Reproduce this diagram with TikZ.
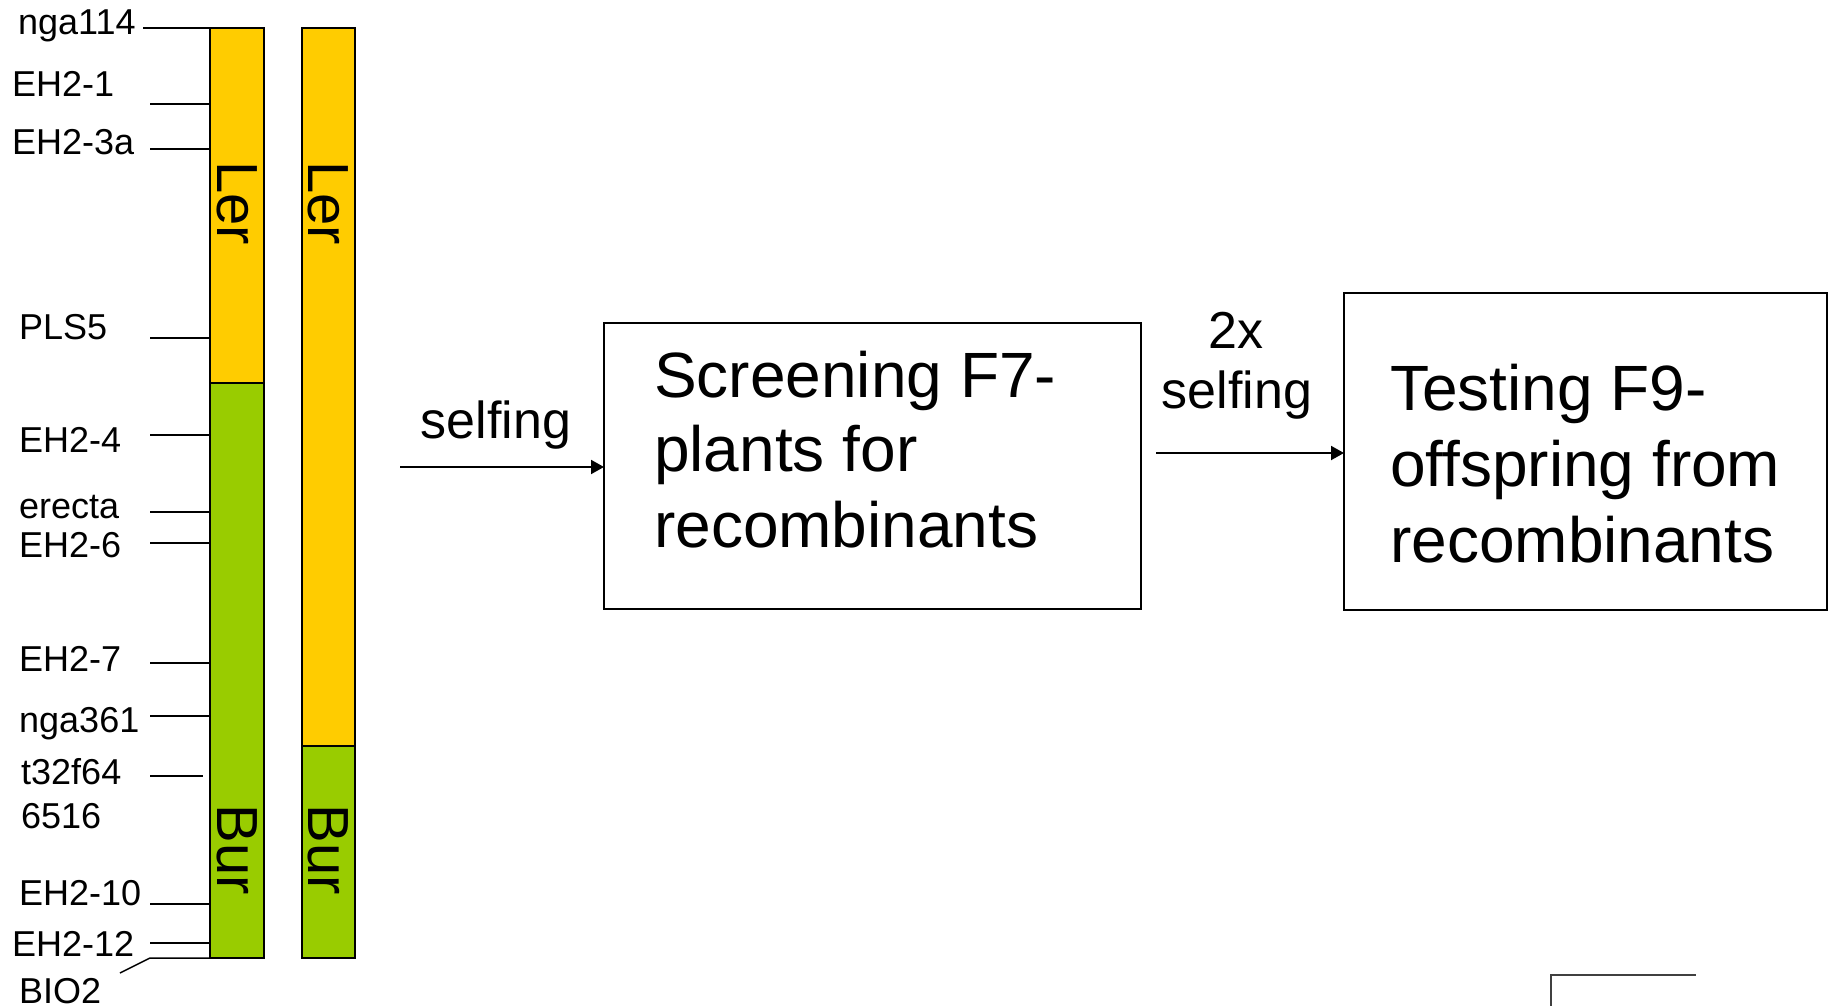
\documentclass[tikz,border=0pt]{standalone}
\usepackage{fontspec}
\setmainfont{Liberation Sans}
\usetikzlibrary{arrows.meta}
\definecolor{lerc}{HTML}{FFCC00}
\definecolor{burc}{HTML}{99CC00}
\begin{document}
\begin{tikzpicture}[x=1pt,y=-1pt,
  seg/.style={draw=black, line width=2.5pt, inner sep=0pt, outer sep=0pt},
  strain/.style={rotate=-90, inner sep=0pt, font=\fontsize{58}{62}\selectfont},
  mk/.style={anchor=base west, inner sep=0pt, font=\fontsize{36}{40}\selectfont},
  tick/.style={line width=1.5pt},
  box/.style={draw=black, line width=2pt, inner sep=0pt, outer sep=0pt},
  boxtxt/.style={anchor=base west, inner sep=0pt, font=\fontsize{64}{76}\selectfont},
  lbl/.style={anchor=base, inner sep=0pt, font=\fontsize{52}{58}\selectfont},
  arr/.style={line width=2pt, -{Triangle[length=13pt,width=14pt]}}
]
\useasboundingbox[fill=white] (0,0) rectangle (1832,1006);

% chromosomes
\node[seg, fill=lerc, minimum width=54pt, minimum height=355pt] (c1ler) at (237,205.5) {};
\node[seg, fill=burc, minimum width=54pt, minimum height=575pt] (c1bur) at (237,670.5) {};
\node[seg, fill=lerc, minimum width=53pt, minimum height=718pt] (c2ler) at (328.5,387) {};
\node[seg, fill=burc, minimum width=53pt, minimum height=212pt] (c2bur) at (328.5,852) {};

\node[strain] (l1) at (237,203) {Ler};
\node[strain] (l2) at (328.5,203) {Ler};
\node[strain] (r1) at (237.5,850) {Bur};
\node[strain] (r2) at (328.5,850) {Bur};

% markers
\node[mk] (m1) at (18,35) {nga114};
\node[mk] (m2) at (12,97) {EH2-1};
\node[mk] (m3) at (12,155) {EH2-3a};
\node[mk] (m4) at (19,339) {PLS5};
\node[mk] (m5) at (19,452) {EH2-4};
\node[mk] (m6) at (19,518) {erecta};
\node[mk] (m7) at (19,557) {EH2-6};
\node[mk] (m8) at (19,671) {EH2-7};
\node[mk] (m9) at (19,732) {nga361};
\node[mk] (m10) at (21,784) {t32f64};
\node[mk] (m11) at (21,828) {6516};
\node[mk] (m12) at (19,905) {EH2-10};
\node[mk] (m13) at (12,956) {EH2-12};
\node[mk] (m14) at (19,1003) {BIO2};

\coordinate (k1) at (143,28);
\coordinate (k2) at (150,104);
\coordinate (k3) at (150,149);
\coordinate (k4) at (150,338);
\coordinate (k5) at (150,435);
\coordinate (k6) at (150,512);
\coordinate (k7) at (150,543);
\coordinate (k8) at (150,663);
\coordinate (k9) at (150,716);
\coordinate (k10) at (150,776);
\coordinate (k10e) at (203,776);
\coordinate (k12) at (150,904);
\coordinate (k13) at (150,943);
\coordinate (k14) at (150,958);
\coordinate (k14s) at (120,973);

\draw[tick] (k1) -- (k1 -| c1ler.west);
\draw[tick] (k2) -- (k2 -| c1ler.west);
\draw[tick] (k3) -- (k3 -| c1ler.west);
\draw[tick] (k4) -- (k4 -| c1ler.west);
\draw[tick] (k5) -- (k5 -| c1bur.west);
\draw[tick] (k6) -- (k6 -| c1bur.west);
\draw[tick] (k7) -- (k7 -| c1bur.west);
\draw[tick] (k8) -- (k8 -| c1bur.west);
\draw[tick] (k9) -- (k9 -| c1bur.west);
\draw[tick] (k10) -- (k10e);
\draw[tick] (k12) -- (k12 -| c1bur.west);
\draw[tick] (k13) -- (k13 -| c1bur.west);
\draw[tick] (k14s) -- (k14) -- (k14 -| c1bur.west);

% boxes
\node[box, minimum width=537pt, minimum height=286pt] (b1) at (872.5,466) {};
\node[box, minimum width=483pt, minimum height=317pt] (b2) at (1585.5,451.5) {};

\node[boxtxt] (t11) at (654,397) {Screening F7-};
\node[boxtxt] (t12) at (654,471) {plants for};
\node[boxtxt] (t13) at (654,547) {recombinants};
\node[boxtxt] (t21) at (1390,410) {Testing F9-};
\node[boxtxt] (t22) at (1390,486) {offspring from};
\node[boxtxt] (t23) at (1390,562) {recombinants};

% arrows
\coordinate (a1) at (400,467);
\coordinate (a2) at (1156,453);
\draw[arr] (a1) -- (a1 -| b1.west);
\draw[arr] (a2) -- (a2 -| b2.west);
\node[lbl] (s1) at (496,438) {selfing};
\node[lbl] (s2a) at (1236,348) {2x};
\node[lbl] (s2b) at (1237,408) {selfing};

% partial frame at lower right
\coordinate (f1) at (1551,1006);
\coordinate (f2) at (1551,975);
\coordinate (f3) at (1696,975);
\draw[line width=1.5pt, black!75] (f1) -- (f2) -- (f3);
\end{tikzpicture}
\end{document}
